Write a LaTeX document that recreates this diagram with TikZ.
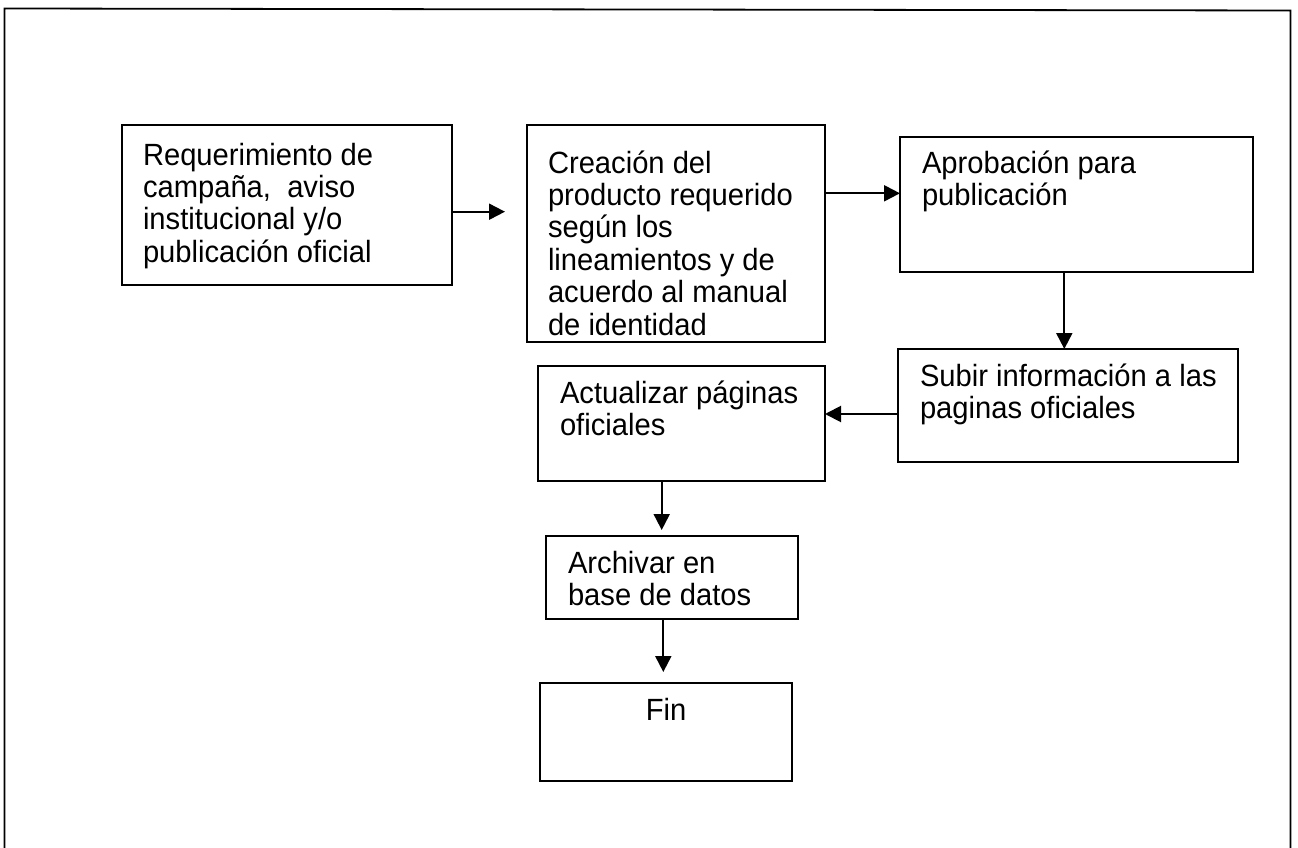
\documentclass[tikz,border=0pt]{standalone}
\usepackage{fontspec}
\setmainfont{Liberation Sans}[FakeStretch=0.95]
\usetikzlibrary{arrows.meta,calc}
\newcommand\fsz{\fontsize{30.7}{32.4}\selectfont}
% #1 width, #2 height, #3 top gap, #4 left pad, #5 text
\newcommand\boxtxt[5]{\parbox[c][#2][t]{#1}{\vspace*{#3}\raggedright\leftskip=#4\relax\rule{0pt}{24pt}#5\par}}
\newcommand\boxctr[4]{\parbox[c][#2][t]{#1}{\vspace*{#3}\centering\rule{0pt}{24pt}#4\par}}
\tikzset{
  stepbox/.style={draw, line width=2.3pt, inner sep=0pt, outer sep=0pt, anchor=north west, font=\fsz},
  arr/.style={line width=2pt, -{Triangle[length=16pt,width=16pt]}},
  frame/.style={line width=1.8pt},
}
\begin{document}
\begin{tikzpicture}[x=1pt,y=-1pt]
\useasboundingbox (0,0) rectangle (1298,848);
\draw[frame] (4.5,880) -- (4.5,8.5) -- (1290.5,10.5) -- (1290.5,880);

\node[stepbox] (b1) at (122,125) {\boxtxt{330pt}{160pt}{16pt}{21pt}{Requerimiento de\\campaña,\ \ aviso\\institucional y/o\\publicación oficial}};
\node[stepbox] (b2) at (527,125) {\boxtxt{298pt}{217pt}{24pt}{21pt}{Creación del\\producto requerido\\según los\\lineamientos y de\\acuerdo al manual\\de identidad}};
\node[stepbox] (b3) at (900,137) {\boxtxt{353pt}{135pt}{12.5pt}{22pt}{Aprobación para\\publicación}};
\node[stepbox] (b4) at (898,349) {\boxtxt{340pt}{113pt}{13pt}{22pt}{Subir información a las\\paginas oficiales}};
\node[stepbox] (b5) at (538,366) {\boxtxt{287pt}{115pt}{13pt}{22pt}{Actualizar páginas\\oficiales}};
\node[stepbox] (b6) at (546,536) {\boxtxt{252pt}{83pt}{13pt}{22pt}{Archivar en\\base de datos}};
\node[stepbox] (b7) at (540,683) {\boxctr{252pt}{98pt}{13pt}{Fin}};

\draw[arr, shorten >=22pt] ([yshift=-6.7pt]b1.east) -- ([yshift=-6.7pt]b1.east -| b2.west);
\draw[arr] ([yshift=40.2pt]b2.east) -- ([yshift=40.2pt]b2.east -| b3.west);
\draw[arr] ([xshift=-12.2pt]b3.south) -- ([xshift=-12.2pt]b3.south |- b4.north);
\draw[arr] ([yshift=-8.5pt]b4.west) -- ([yshift=-8.5pt]b4.west -| b5.east);
\draw[arr, shorten >=6pt] ([xshift=-19.8pt]b5.south) -- ([xshift=-19.8pt]b5.south |- b6.north);
\draw[arr, shorten >=11pt] ([xshift=-8.7pt]b6.south) -- ([xshift=-8.7pt]b6.south |- b7.north);
\end{tikzpicture}
\end{document}
